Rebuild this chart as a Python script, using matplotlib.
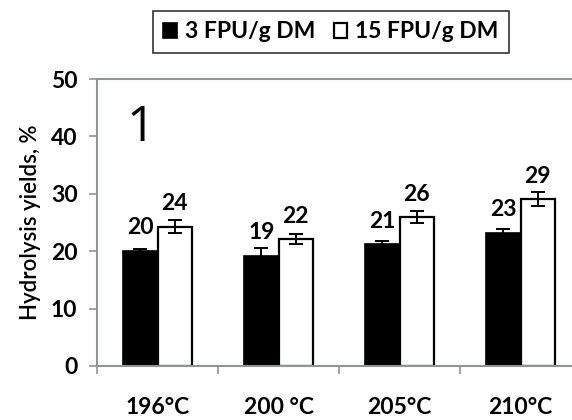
import matplotlib
matplotlib.use("Agg")
import matplotlib.pyplot as plt
import numpy as np

# data
temps = ["196°C", "200 °C", "205°C", "210°C"]
low_dose = [20.1, 19.2, 21.2, 23.2]
low_err = [0.3, 1.3, 0.6, 0.6]
high_dose = [24.3, 22.1, 25.95, 29.1]
high_err = [1.05, 0.85, 1.05, 1.3]
low_labels = ["20", "19", "21", "23"]
high_labels = ["24", "22", "26", "29"]

plt.rcParams['font.family'] = ['Lato', 'DejaVu Sans']
grey = '#8c9696'

fig = plt.figure(figsize=(5.72, 4.2), dpi=100)
ax = fig.add_axes([97 / 572, 54 / 420, 484 / 572, 287 / 420])

x = np.arange(len(temps))
w = 0.285
ax.bar(x - w / 2, low_dose, w, color='black', edgecolor='black', lw=1.2,
       yerr=low_err, capsize=5, error_kw=dict(lw=1.4, capthick=1.4, ecolor='black'),
       label='3 FPU/g DM')
ax.bar(x + w / 2, high_dose, w, color='white', edgecolor='black', lw=1.6,
       yerr=high_err, capsize=5, error_kw=dict(lw=1.4, capthick=1.4, ecolor='black'),
       label='15 FPU/g DM')

# value labels sit a fixed distance above each bar
for i in range(len(temps)):
    ax.annotate(low_labels[i], (x[i] - w / 2, low_dose[i]), xytext=(0, 16.5),
                textcoords='offset points', ha='center', va='center',
                fontsize=16.5, fontweight='bold')
    ax.annotate(high_labels[i], (x[i] + w / 2, high_dose[i]), xytext=(0, 16.5),
                textcoords='offset points', ha='center', va='center',
                fontsize=16.5, fontweight='bold')

ax.set_xlim(-0.5, 3.5)
ax.set_ylim(0, 50)
ax.set_yticks(range(0, 51, 10))
ax.set_xticks(x)
ax.set_xticklabels(temps)
ax.set_xticks(x - 0.5, minor=True)
ax.tick_params(axis='x', which='major', length=0, pad=22, labelsize=16.5)
ax.tick_params(axis='x', which='minor', length=6, width=1.2, color=grey)
ax.tick_params(axis='y', length=6, width=1.2, color=grey, pad=8, labelsize=16.5)
for lab in ax.get_xticklabels() + ax.get_yticklabels():
    lab.set_fontweight('bold')

for s in ['left', 'bottom', 'top']:
    ax.spines[s].set_color(grey)
    ax.spines[s].set_linewidth(1.5)
ax.spines['right'].set_visible(False)

ax.set_ylabel('Hydrolysis yields, %', fontsize=16, fontweight='semibold', labelpad=7)

ax.text(0.06, 0.83, '1', transform=ax.transAxes, fontsize=36,
        family='Open Sans', fontweight='normal', ha='left', va='center')

fig.legend(loc='center', bbox_to_anchor=(331 / 572, 1 - 32 / 420), ncol=2,
           prop=dict(weight='bold', size=16.5), frameon=True,
           fancybox=False, edgecolor='black', handlelength=0.6, handleheight=0.6,
           handletextpad=0.35, columnspacing=0.8, borderpad=0.45)
fig.legends[0].get_frame().set_linewidth(1.2)

fig.savefig('out.png', dpi=100)
